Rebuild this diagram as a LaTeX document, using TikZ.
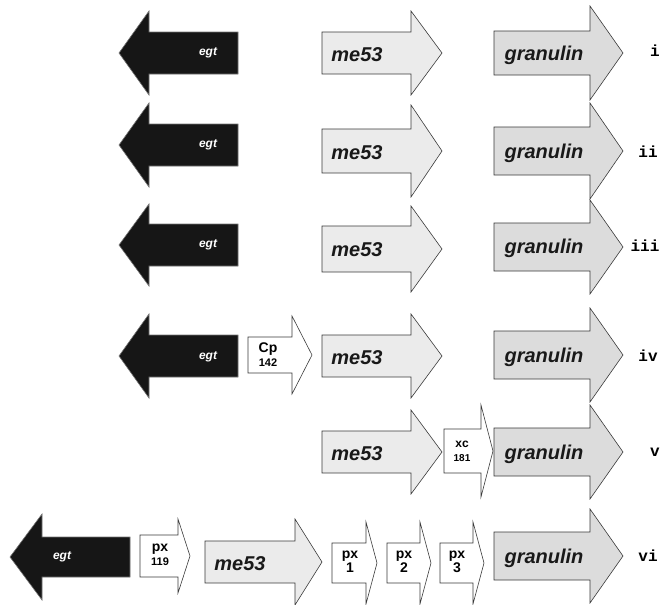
\documentclass[tikz,border=0pt]{standalone}
\usepackage{fontspec}
\setmainfont{Liberation Sans}
\newfontfamily\labmono{Liberation Mono}
\definecolor{egtc}{HTML}{161616}
\definecolor{mec}{HTML}{EBEBEB}
\definecolor{grc}{HTML}{DCDCDC}
\definecolor{edgec}{HTML}{3A3A3A}
\newcommand\rarrow[7]{\path[#1] (#2,#5-#6) -- (#3,#5-#6) -- (#3,#5-#7) -- (#4,#5) -- (#3,#5+#7) -- (#3,#5+#6) -- (#2,#5+#6) -- cycle;}
\newcommand\larrow[7]{\path[#1] (#4,#5-#6) -- (#3,#5-#6) -- (#3,#5-#7) -- (#2,#5) -- (#3,#5+#7) -- (#3,#5+#6) -- (#4,#5+#6) -- cycle;}
\newcommand\bigp{\fontsize{14}{15}\selectfont}
\newcommand\smallp{\fontsize{11}{13}\selectfont}
\tikzset{
  egtsty/.style={fill=egtc,draw=black!55,line width=0.6pt},
  mesty/.style={fill=mec,draw=edgec,line width=0.6pt},
  grsty/.style={fill=grc,draw=edgec,line width=0.6pt},
  prsty/.style={fill=white,draw=edgec,line width=0.6pt},
  egtlbl/.style={text=white,inner sep=0pt,font=\fontsize{12}{12}\selectfont\bfseries\itshape},
  genelbl/.style={inner sep=0pt,text=black!90,font=\fontsize{20}{20}\selectfont\bfseries\itshape},
  prlbl/.style={inner sep=0pt,align=center,font=\bfseries\fontsize{12}{14}\selectfont},
  rowlbl/.style={inner sep=0pt,font=\fontsize{16}{16}\selectfont\labmono\bfseries},
}
\begin{document}
\begin{tikzpicture}[x=1pt,y=-1pt]
\useasboundingbox (0,0) rectangle (662,605);
% row i
\larrow{egtsty}{119}{149}{238}{53}{21}{42}
\node[egtlbl] (egt1) at (208,53) {egt};
\rarrow{mesty}{322}{411}{442}{53}{21}{42}
\node[genelbl] (me1) at (357,55) {me53};
\rarrow{grsty}{494}{590}{623}{53}{22}{47}
\node[genelbl] (gr1) at (544,55) {granulin};
\node[rowlbl] (r1) at (655,51) {i};
% row ii
\larrow{egtsty}{119}{149}{238}{145}{21}{42}
\node[egtlbl] (egt2) at (208,145) {egt};
\rarrow{mesty}{322}{411}{442}{151}{22}{46}
\node[genelbl] (me2) at (357,153) {me53};
\rarrow{grsty}{494}{590}{623}{151}{24}{48}
\node[genelbl] (gr2) at (544,153) {granulin};
\node[rowlbl] (r2) at (648,152) {ii};
% row iii
\larrow{egtsty}{119}{149}{238}{245}{21}{41}
\node[egtlbl] (egt3) at (208,245) {egt};
\rarrow{mesty}{322}{411}{442}{249}{23}{43}
\node[genelbl] (me3) at (357,250) {me53};
\rarrow{grsty}{494}{590}{623}{247}{24}{47}
\node[genelbl] (gr3) at (544,248) {granulin};
\node[rowlbl] (r3) at (645,246) {iii};
% row iv
\larrow{egtsty}{119}{149}{238}{356}{21}{42}
\node[egtlbl] (egt4) at (208,357) {egt};
\rarrow{prsty}{248}{292}{312}{355}{18}{39}
\node[prlbl] (cp) at (268,355) {{\bigp Cp}\\{\smallp 142}};
\rarrow{mesty}{322}{411}{442}{356}{21}{42}
\node[genelbl] (me4) at (357,358) {me53};
\rarrow{grsty}{494}{590}{623}{355}{24}{47}
\node[genelbl] (gr4) at (544,357) {granulin};
\node[rowlbl] (r4) at (648,356) {iv};
% row v
\rarrow{mesty}{322}{411}{442}{452}{21}{42}
\node[genelbl] (me5) at (357,454) {me53};
\rarrow{prsty}{444}{481}{493}{451}{22}{46}
\node[prlbl] (xc) at (462,451) {{\fontsize{12}{15}\selectfont xc}\\{\fontsize{10}{13}\selectfont 181}};
\rarrow{grsty}{494}{590}{623}{452}{24}{47}
\node[genelbl] (gr5) at (544,454) {granulin};
\node[rowlbl] (r5) at (655,452) {v};
% row vi
\larrow{egtsty}{10}{42}{130}{557}{20}{43}
\node[egtlbl] (egt6) at (62,557) {egt};
\rarrow{prsty}{140}{178}{190}{556}{21}{37}
\node[prlbl] (px119) at (160,555) {{\bigp px}\\{\smallp 119}};
\rarrow{mesty}{205}{295}{322}{562}{21}{43}
\node[genelbl] (me6) at (240,564) {me53};
\rarrow{prsty}{332}{366}{377}{563}{20}{41}
\node[prlbl] (px1) at (350,562) {{\bigp px}\\{\bigp 1}};
\rarrow{prsty}{387}{420}{431}{563}{20}{41}
\node[prlbl] (px2) at (404,562) {{\bigp px}\\{\bigp 2}};
\rarrow{prsty}{440}{473}{484}{563}{20}{41}
\node[prlbl] (px3) at (457,562) {{\bigp px}\\{\bigp 3}};
\rarrow{grsty}{494}{590}{623}{556}{24}{47}
\node[genelbl] (gr6) at (544,558) {granulin};
\node[rowlbl] (r6) at (648,556) {vi};
\end{tikzpicture}
\end{document}
